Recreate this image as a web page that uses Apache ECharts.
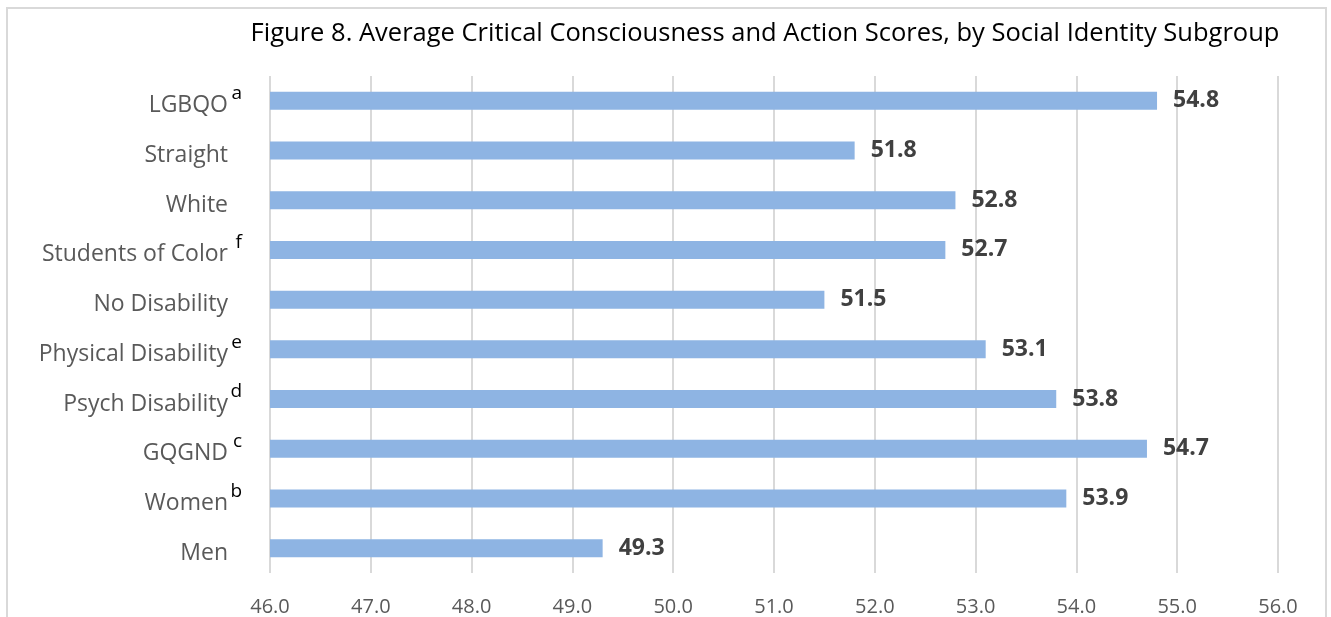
<!DOCTYPE html>
<html>
<head>
<meta charset="utf-8">
<script src="https://cdn.jsdelivr.net/npm/echarts@6/dist/echarts.min.js"></script>
<style>
  html, body { margin: 0; padding: 0; background: #fff; }
  #chart { width: 1331px; height: 617px; }
</style>
</head>
<body>
<div id="chart"></div>
<script>
// data, top to bottom as in the figure
const categories = ['LGBQO', 'Straight', 'White', 'Students of Color', 'No Disability',
  'Physical Disability', 'Psych Disability', 'GQGND', 'Women', 'Men']
const footnotes = ['a', '', '', 'f', '', 'e', 'd', 'c', 'b', '']
const scores = [54.8, 51.8, 52.8, 52.7, 51.5, 53.1, 53.8, 54.7, 53.9, 49.3]
const xTicks = [46, 47, 48, 49, 50, 51, 52, 53, 54, 55, 56]

const font = '"Open Sans", "Noto Sans", sans-serif'

const chart = echarts.init(document.getElementById('chart'))
const option = {
  backgroundColor: '#fff',
  textStyle: { fontFamily: font },
  title: {
    text: 'Figure 8. Average Critical Consciousness and Action Scores, by Social Identity Subgroup',
    left: 760,
    top: 16,
    textAlign: 'center',
    textStyle: {
      color: '#000',
      fontSize: 25.5,
      fontWeight: 'normal',
      fontFamily: font,
    },
  },
  graphic: [{
    type: 'rect',
    shape: { x: 7, y: 8, width: 1319, height: 640 },
    style: { fill: 'none', stroke: '#d9d9d9', lineWidth: 2 },
    silent: true,
  }],
  grid: {
    left: 270,
    right: 53,
    top: 76,
    bottom: 43,
    containLabel: false,
  },
  xAxis: {
    type: 'value',
    min: xTicks[0],
    max: xTicks[xTicks.length - 1],
    interval: 1,
    axisLine: { show: false },
    axisTick: { show: false },
    axisLabel: {
      color: '#595959',
      fontSize: 20,
      margin: 24,
      formatter: (v) => v.toFixed(1),
    },
    splitLine: {
      lineStyle: { color: '#d9d9d9', width: 2 },
    },
  },
  yAxis: {
    type: 'category',
    inverse: true,
    data: categories,
    axisLine: { show: false },
    axisTick: { show: false },
    axisLabel: {
      margin: 28,
      formatter: (v, i) => '{n|' + v + '}{s|' + (footnotes[i] || ' ') + '}',
      rich: {
        n: { color: '#595959', fontSize: 23, fontFamily: font, padding: [10, 0, 0, 0] },
        s: { color: '#000', fontSize: 19, fontFamily: font, verticalAlign: 'top', padding: [0, 0, 0, 3], width: 11 },
      },
    },
  },
  series: [
    {
      type: 'bar',
      data: scores,
      barWidth: 18,
      itemStyle: { color: '#8eb4e3' },
      label: {
        show: true,
        position: 'right',
        distance: 16,
        color: '#404040',
        fontSize: 23,
        fontWeight: 'bold',
        fontFamily: font,
        formatter: (p) => p.value.toFixed(1),
      },
    },
  ],
}
chart.setOption(option)
</script>
</body>
</html>
